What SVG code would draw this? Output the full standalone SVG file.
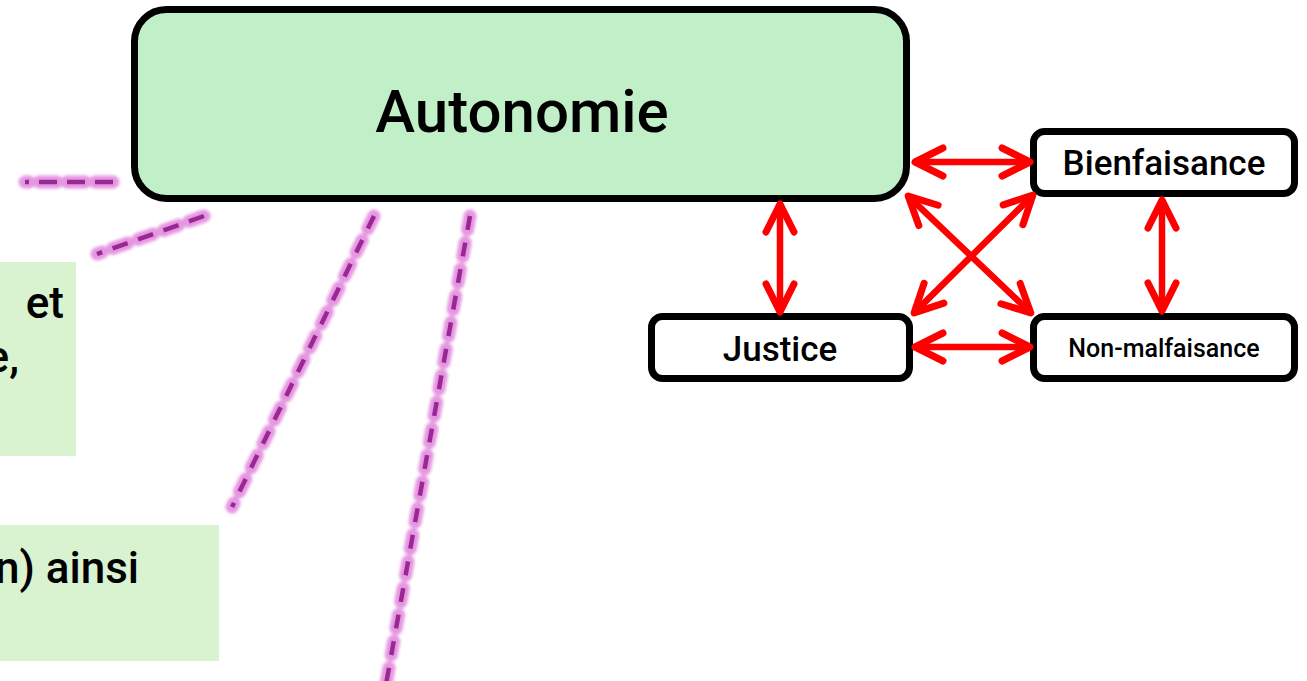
<svg xmlns="http://www.w3.org/2000/svg" width="1307" height="681" viewBox="0 0 1307 681">
  <style>
    .box { stroke: #000; stroke-width: 7; }
    .lbl { font-family: Roboto, "Liberation Sans", Arial, sans-serif; font-weight: 500; fill: #000; text-anchor: middle; }
    .note { font-family: Roboto, "Liberation Sans", Arial, sans-serif; font-weight: 500; fill: #000; font-size: 44px; text-anchor: end; }
    .notebg { fill: #d9f2d0; }
    .arrow { stroke: #ff0000; stroke-width: 6.5; fill: none; marker-start: url(#ah); marker-end: url(#ah); }
    .glow { stroke: #e596e1; stroke-width: 13; stroke-linecap: round; fill: none; filter: url(#blur); }
    .dash { stroke: #9a2894; stroke-width: 4.5; fill: none; }
  </style>
  <defs>
    <marker id="ah" markerUnits="userSpaceOnUse" viewBox="-36 -20 44 40" markerWidth="44" markerHeight="40" refX="0" refY="0" orient="auto-start-reverse" overflow="visible">
      <path d="M-28,-14 L0,0 L-28,14" fill="none" stroke="#ff0000" stroke-width="7" stroke-linecap="round" stroke-linejoin="round"/>
    </marker>
    <filter id="blur" filterUnits="userSpaceOnUse" x="0" y="0" width="1307" height="681">
      <feGaussianBlur stdDeviation="1.6"/>
    </filter>
  </defs>

  <rect width="1307" height="681" fill="#ffffff"/>

  <g id="note-a">
    <rect class="notebg" x="0" y="262" width="76" height="194"/>
    <text class="note" x="64" y="318">et</text>
    <text class="note" x="19" y="372">e,</text>
  </g>

  <g id="note-b">
    <rect class="notebg" x="0" y="525" width="219" height="136"/>
    <text class="note" x="139" y="583">n) ainsi</text>
  </g>

  <g id="dashed-links">
    <path class="glow" d="M113,182 L25,182" stroke-dasharray="18 10"/>
    <path class="dash" d="M113,182 L25,182" stroke-dasharray="18 10"/>
    <path class="glow" d="M204,216 L97,254" stroke-dasharray="16 11"/>
    <path class="dash" d="M204,216 L97,254" stroke-dasharray="16 11"/>
    <path class="glow" d="M374,216 L232,507" stroke-dasharray="14 12.6"/>
    <path class="dash" d="M374,216 L232,507" stroke-dasharray="14 12.6"/>
    <path class="glow" d="M470,216 L385,690" stroke-dasharray="14 13"/>
    <path class="dash" d="M470,216 L385,690" stroke-dasharray="14 13"/>
  </g>

  <g id="autonomie">
    <rect class="box" x="134.5" y="9.5" width="772" height="189" rx="32" fill="#c1f0c8"/>
    <text class="lbl" x="522" y="132" font-size="60">Autonomie</text>
  </g>

  <g id="bienfaisance">
    <rect class="box" x="1033.5" y="131.5" width="261" height="62" rx="11" fill="#ffffff"/>
    <text class="lbl" x="1164" y="175" font-size="35">Bienfaisance</text>
  </g>

  <g id="justice">
    <rect class="box" x="651.5" y="316.5" width="258" height="62" rx="11" fill="#ffffff"/>
    <text class="lbl" x="780" y="361" font-size="35">Justice</text>
  </g>

  <g id="non-malfaisance">
    <rect class="box" x="1033.5" y="316.5" width="261" height="62" rx="11" fill="#ffffff"/>
    <text class="lbl" x="1164" y="357" font-size="25">Non-malfaisance</text>
  </g>

  <g id="connectors">
    <line class="arrow" x1="915" y1="162" x2="1030" y2="162"/>
    <line class="arrow" x1="780" y1="204" x2="780" y2="312"/>
    <line class="arrow" x1="1162" y1="200" x2="1162" y2="311"/>
    <line class="arrow" x1="915" y1="347" x2="1030" y2="347"/>
    <line class="arrow" x1="908.2" y1="196.1" x2="1030.8" y2="312.9"/>
    <line class="arrow" x1="1032.9" y1="195.1" x2="914.1" y2="312.9"/>
  </g>
</svg>
